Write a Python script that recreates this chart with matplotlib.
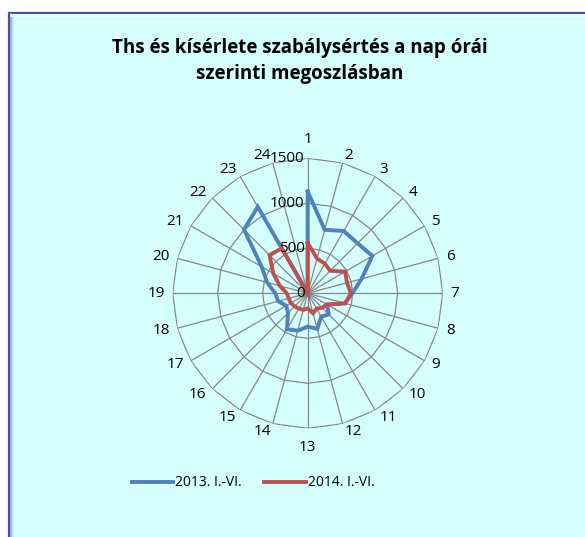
import numpy as np
import matplotlib
matplotlib.use("Agg")
import matplotlib.pyplot as plt
import matplotlib.transforms as mtrans
from matplotlib.patches import Rectangle
from matplotlib.lines import Line2D

categories = [str(i) for i in range(1, 25)]
series_2013 = [1130, 730, 800, 785, 830, 620, 496, 430, 250, 330, 300, 410,
               370, 430, 460, 310, 275, 340, 360, 467, 590, 1000, 1110, 0]
series_2014 = [560, 400, 380, 354, 480, 452, 480, 430, 250, 228, 196, 230,
               167, 191, 196, 205, 217, 218, 233, 321, 441, 600, 577, 0]
series_names = ["2013. I.-VI.", "2014. I.-VI."]
radial_ticks = [0, 500, 1000, 1500]
title = "Ths és kísérlete szabálysértés a nap órái\nszerinti megoszlásban"

colors = ["#4F81BD", "#C0504D"]
bg = "#D5FFFF"
grid_c = "#878787"

W, H = 585, 537
fig = plt.figure(figsize=(W / 100, H / 100), dpi=100)
fig.patch.set_facecolor("white")

# frame with simple bevel
frame = Rectangle((9 / W, -0.05), 1.1, (H - 12.5) / H + 0.05,
                  transform=fig.transFigure, facecolor=bg,
                  edgecolor="#4A4FA0", lw=1.6, zorder=-5)
fig.patches.append(frame)
fig.add_artist(Line2D([11 / W, 11 / W], [0, (H - 14) / H], color="#8FA6D6",
                      lw=1.2, transform=fig.transFigure, zorder=-4))
fig.add_artist(Line2D([13 / W, 13 / W], [0, (H - 16) / H], color="#B9E6F2",
                      lw=1.2, transform=fig.transFigure, zorder=-4))
fig.add_artist(Line2D([11 / W, 1], [(H - 14.5) / H, (H - 14.5) / H],
                      color="#EAFFFF", lw=2.0, transform=fig.transFigure,
                      zorder=-4))

cx, cy, R = 307.7, 293.3, 135.0
ax = fig.add_axes([(cx - R) / W, (H - cy - R) / H, 2 * R / W, 2 * R / H],
                  projection="polar")
ax.set_zorder(2)
ax.set_facecolor("none")
ax.set_theta_zero_location("N")
ax.set_theta_direction(-1)
rmax = radial_ticks[-1]
ax.set_ylim(0, rmax)
ax.grid(False)
ax.spines["polar"].set_visible(False)
ax.set_xticks([])
ax.set_yticks([])

n = len(categories)
angles = np.arange(n) * 2 * np.pi / n
ang_closed = np.append(angles, angles[0])

# polygon gridlines and spokes
for r in radial_ticks[1:]:
    ax.plot(ang_closed, [r] * (n + 1), color=grid_c, lw=0.9, zorder=1)
for a in angles:
    ax.plot([a, a], [0, rmax], color=grid_c, lw=0.9, zorder=1)

# data
for vals, c, name in zip([series_2013, series_2014], colors, series_names):
    v = np.append(vals, vals[0])
    ax.plot(ang_closed, v, color=c, lw=2.8, label=name, zorder=3,
            solid_joinstyle="miter")

# category labels (Excel-like anchoring)
r_lab = rmax * 143.0 / R
for a, lab in zip(angles, categories):
    s = np.sin(a)
    if abs(s) < 1e-6:
        ha = "center"
        va = "bottom" if np.cos(a) > 0 else "top"
        dy = 3 if np.cos(a) > 0 else -4
        off = mtrans.ScaledTranslation(0, dy / 100, fig.dpi_scale_trans)
    else:
        ha = "left" if s > 0 else "right"
        va = "center"
        off = mtrans.ScaledTranslation(0, 0, fig.dpi_scale_trans)
    ax.text(a, r_lab, lab, ha=ha, va=va, fontsize=11, family="Open Sans",
            color="#000000", transform=ax.transData + off, zorder=4)

# radial tick labels
for r in radial_ticks:
    ax.text(0, r, f"{r}", ha="right", va="center",
            fontsize=11, family="Open Sans", color="#000000", zorder=4,
            transform=ax.transData + mtrans.ScaledTranslation(
                -3 / 100, 0, fig.dpi_scale_trans))

fig.text(300 / W, (H - 61) / H, title, ha="center", va="center",
         fontsize=13.5, fontweight="bold", family="Open Sans",
         linespacing=1.45)

handles, labels = ax.get_legend_handles_labels()
leg = fig.legend(handles, labels, loc="center", ncol=2,
                 bbox_to_anchor=(253 / W, (H - 483) / H), frameon=False,
                 prop={"family": "Open Sans", "size": 10},
                 handlelength=3.0, handletextpad=0.15, columnspacing=1.6)

fig.savefig("out.png", dpi=100, facecolor=fig.get_facecolor())
